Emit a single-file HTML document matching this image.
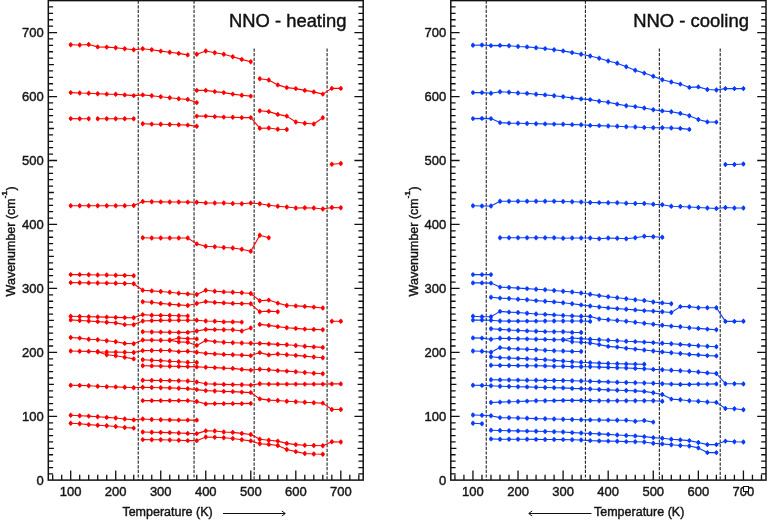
<!DOCTYPE html>
<html><head><meta charset="utf-8"><title>NNO heating / cooling</title>
<style>
html,body{margin:0;padding:0;background:#fff;}
body{width:768px;height:520px;overflow:hidden;}
svg{display:block;}
text{font-family:"Liberation Sans",Arial,sans-serif;fill:#151515;stroke:#151515;stroke-width:0.42px;}
.tl{font-size:13px;}
.al{font-size:12.5px;}
.tt{font-size:17.6px;fill:#111;}
</style></head><body>
<svg width="768" height="520" viewBox="0 0 768 520">
<defs><g id="mk"><circle cx="0" cy="0" r="1.95" stroke="none"/><path d="M0 -2.45v4.9" stroke-width="1.15" fill="none"/></g></defs>
<rect width="768" height="520" fill="#fff"/>
<!-- left: heating -->
<line x1="138.23" y1="0.6" x2="138.23" y2="480.1" stroke="#222" stroke-width="1.1" stroke-dasharray="3.2 1.4"/>
<line x1="194.05" y1="0.6" x2="194.05" y2="480.1" stroke="#222" stroke-width="1.1" stroke-dasharray="3.2 1.4"/>
<line x1="254.16" y1="48.5" x2="254.16" y2="480.1" stroke="#222" stroke-width="1.1" stroke-dasharray="3.2 1.4"/>
<line x1="327.09" y1="48.5" x2="327.09" y2="480.1" stroke="#222" stroke-width="1.1" stroke-dasharray="3.2 1.4"/>
<rect x="48.30" y="0.6" width="314.90" height="479.50" fill="none" stroke="#111" stroke-width="1.5"/>
<path d="M52.69 480.1v-5.4M61.70 480.1v-5.4M70.70 480.1v-9.6M79.70 480.1v-5.4M88.71 480.1v-5.4M97.71 480.1v-5.4M106.72 480.1v-5.4M115.72 480.1v-9.6M124.72 480.1v-5.4M133.73 480.1v-5.4M142.73 480.1v-5.4M151.74 480.1v-5.4M160.74 480.1v-9.6M169.74 480.1v-5.4M178.75 480.1v-5.4M187.75 480.1v-5.4M196.76 480.1v-5.4M205.76 480.1v-9.6M214.76 480.1v-5.4M223.77 480.1v-5.4M232.77 480.1v-5.4M241.78 480.1v-5.4M250.78 480.1v-9.6M259.78 480.1v-5.4M268.79 480.1v-5.4M277.79 480.1v-5.4M286.80 480.1v-5.4M295.80 480.1v-9.6M304.80 480.1v-5.4M313.81 480.1v-5.4M322.81 480.1v-5.4M331.82 480.1v-5.4M340.82 480.1v-9.6M349.82 480.1v-5.4M358.83 480.1v-5.4M48.30 473.95h4.8M363.20 473.95h-4.8M48.30 467.56h4.8M363.20 467.56h-4.8M48.30 461.16h4.8M363.20 461.16h-4.8M48.30 454.76h4.8M363.20 454.76h-4.8M48.30 448.37h5.6M363.20 448.37h-5.6M48.30 441.97h4.8M363.20 441.97h-4.8M48.30 435.57h4.8M363.20 435.57h-4.8M48.30 429.17h4.8M363.20 429.17h-4.8M48.30 422.78h4.8M363.20 422.78h-4.8M48.30 416.38h8.8M363.20 416.38h-8.8M48.30 409.98h4.8M363.20 409.98h-4.8M48.30 403.59h4.8M363.20 403.59h-4.8M48.30 397.19h4.8M363.20 397.19h-4.8M48.30 390.79h4.8M363.20 390.79h-4.8M48.30 384.39h5.6M363.20 384.39h-5.6M48.30 378.00h4.8M363.20 378.00h-4.8M48.30 371.60h4.8M363.20 371.60h-4.8M48.30 365.20h4.8M363.20 365.20h-4.8M48.30 358.81h4.8M363.20 358.81h-4.8M48.30 352.41h8.8M363.20 352.41h-8.8M48.30 346.01h4.8M363.20 346.01h-4.8M48.30 339.62h4.8M363.20 339.62h-4.8M48.30 333.22h4.8M363.20 333.22h-4.8M48.30 326.82h4.8M363.20 326.82h-4.8M48.30 320.43h5.6M363.20 320.43h-5.6M48.30 314.03h4.8M363.20 314.03h-4.8M48.30 307.63h4.8M363.20 307.63h-4.8M48.30 301.23h4.8M363.20 301.23h-4.8M48.30 294.84h4.8M363.20 294.84h-4.8M48.30 288.44h8.8M363.20 288.44h-8.8M48.30 282.04h4.8M363.20 282.04h-4.8M48.30 275.65h4.8M363.20 275.65h-4.8M48.30 269.25h4.8M363.20 269.25h-4.8M48.30 262.85h4.8M363.20 262.85h-4.8M48.30 256.46h5.6M363.20 256.46h-5.6M48.30 250.06h4.8M363.20 250.06h-4.8M48.30 243.66h4.8M363.20 243.66h-4.8M48.30 237.26h4.8M363.20 237.26h-4.8M48.30 230.87h4.8M363.20 230.87h-4.8M48.30 224.47h8.8M363.20 224.47h-8.8M48.30 218.07h4.8M363.20 218.07h-4.8M48.30 211.68h4.8M363.20 211.68h-4.8M48.30 205.28h4.8M363.20 205.28h-4.8M48.30 198.88h4.8M363.20 198.88h-4.8M48.30 192.49h5.6M363.20 192.49h-5.6M48.30 186.09h4.8M363.20 186.09h-4.8M48.30 179.69h4.8M363.20 179.69h-4.8M48.30 173.29h4.8M363.20 173.29h-4.8M48.30 166.90h4.8M363.20 166.90h-4.8M48.30 160.50h8.8M363.20 160.50h-8.8M48.30 154.10h4.8M363.20 154.10h-4.8M48.30 147.71h4.8M363.20 147.71h-4.8M48.30 141.31h4.8M363.20 141.31h-4.8M48.30 134.91h4.8M363.20 134.91h-4.8M48.30 128.51h5.6M363.20 128.51h-5.6M48.30 122.12h4.8M363.20 122.12h-4.8M48.30 115.72h4.8M363.20 115.72h-4.8M48.30 109.32h4.8M363.20 109.32h-4.8M48.30 102.93h4.8M363.20 102.93h-4.8M48.30 96.53h8.8M363.20 96.53h-8.8M48.30 90.13h4.8M363.20 90.13h-4.8M48.30 83.74h4.8M363.20 83.74h-4.8M48.30 77.34h4.8M363.20 77.34h-4.8M48.30 70.94h4.8M363.20 70.94h-4.8M48.30 64.55h5.6M363.20 64.55h-5.6M48.30 58.15h4.8M363.20 58.15h-4.8M48.30 51.75h4.8M363.20 51.75h-4.8M48.30 45.35h4.8M363.20 45.35h-4.8M48.30 38.96h4.8M363.20 38.96h-4.8M48.30 32.56h8.8M363.20 32.56h-8.8M48.30 26.16h4.8M363.20 26.16h-4.8M48.30 19.77h4.8M363.20 19.77h-4.8M48.30 13.37h4.8M363.20 13.37h-4.8M48.30 6.97h4.8M363.20 6.97h-4.8" stroke="#111" stroke-width="1.3" fill="none"/>
<g fill="#ff0000" stroke="#ff0000"><path d="M70.70 44.80L79.70 45.00L88.71 44.50L97.71 46.90L106.72 47.10L115.72 47.70L124.72 48.80L133.73 49.80L142.73 48.80L151.74 49.80L160.74 51.10L169.74 52.20L178.75 53.40L187.75 54.90M196.76 54.20L205.76 51.00L214.76 52.80L223.77 54.20L232.77 56.70L241.78 59.40L250.78 61.70M259.78 78.70L268.79 80.00L277.79 84.90L286.80 87.60L295.80 88.60L304.80 90.40L313.81 91.90L322.81 94.10L331.82 88.40L340.82 88.40M70.70 92.60L79.70 93.00L88.71 93.20L97.71 93.70L106.72 94.10L115.72 94.30L124.72 94.90L133.73 95.60L142.73 94.90L151.74 95.80L160.74 96.80L169.74 97.70L178.75 98.70L187.75 99.40L196.76 102.60M196.76 90.40L205.76 90.40L214.76 91.60L223.77 92.60L232.77 94.10L241.78 95.30L250.78 96.10M259.78 110.70L268.79 111.60L277.79 114.40L286.80 116.10L295.80 122.00L304.80 123.30L313.81 124.00L322.81 117.80M70.70 118.60L79.70 118.70L88.71 118.70M97.71 118.80L106.72 118.70L115.72 118.70L124.72 118.70L133.73 118.70M142.73 123.70L151.74 124.10L160.74 124.30L169.74 124.50L178.75 124.80L187.75 125.10L196.76 126.30M196.76 116.10L205.76 116.10L214.76 116.60L223.77 117.10L232.77 117.30L241.78 117.60L250.78 117.60L259.78 128.20L268.79 128.00L277.79 129.20L286.80 129.50M70.70 205.75L79.70 205.75L88.71 205.75L97.71 205.75L106.72 205.75L115.72 205.75L124.72 205.75L133.73 205.50L142.73 201.50L151.74 201.75L160.74 201.90L169.74 202.00L178.75 202.00L187.75 202.10L196.76 202.25L205.76 202.90L214.76 203.00L223.77 203.00L232.77 203.50L241.78 203.75L250.78 203.00L259.78 203.75L268.79 205.25L277.79 206.25L286.80 207.00L295.80 208.00L304.80 207.75L313.81 208.00L322.81 209.00L331.82 207.50L340.82 207.75M142.73 237.75L151.74 238.00L160.74 238.00L169.74 238.00L178.75 238.00L187.75 238.00L196.76 243.90L205.76 246.20L214.76 246.75L223.77 247.50L232.77 248.00L241.78 249.25L250.78 251.25L259.78 235.25L268.79 237.75M331.82 164.25L340.82 163.50M70.70 274.60L79.70 274.60L88.71 274.80L97.71 275.00L106.72 275.00L115.72 275.20L124.72 275.40L133.73 275.70M70.70 282.60L79.70 282.70L88.71 282.90L97.71 283.00L106.72 283.10L115.72 283.30L124.72 283.50L133.73 283.70L142.73 290.30L151.74 290.90L160.74 291.50L169.74 292.20L178.75 293.20L187.75 293.90L196.76 294.50L205.76 290.20L214.76 291.20L223.77 291.90L232.77 292.30L241.78 292.80L250.78 293.50L259.78 300.80L268.79 300.10L277.79 303.10L286.80 305.50L295.80 305.90L304.80 306.40L313.81 307.10L322.81 308.00M142.73 301.70L151.74 302.30L160.74 303.40L169.74 304.20L178.75 304.90L187.75 305.50L196.76 303.50L205.76 301.60L214.76 302.40L223.77 302.90L232.77 303.40L241.78 303.60L250.78 303.80L259.78 311.80L268.79 311.10L277.79 311.80M70.70 316.30L79.70 316.50L88.71 316.70L97.71 316.90L106.72 317.10L115.72 317.40L124.72 317.60L133.73 317.80L142.73 314.60L151.74 315.20L160.74 315.40L169.74 315.50L178.75 315.80L187.75 315.90M70.70 319.90L79.70 320.50L88.71 321.00L97.71 321.60L106.72 322.20L115.72 322.90L124.72 324.60L133.73 324.80L142.73 321.00L151.74 320.60L160.74 320.40L169.74 320.30L178.75 320.30L187.75 320.30L196.76 320.20L205.76 321.00L214.76 321.30L223.77 321.90L232.77 321.90L241.78 322.10M331.82 321.20L340.82 321.20M142.73 331.70L151.74 332.00L160.74 332.10L169.74 332.20L178.75 332.40L187.75 332.40L196.76 331.00L205.76 329.40L214.76 329.60L223.77 329.80L232.77 329.80L241.78 331.00L250.78 328.00M259.78 324.40L268.79 325.40L277.79 326.60L286.80 327.70L295.80 328.40L304.80 329.10L313.81 329.40L322.81 329.80M70.70 337.50L79.70 338.10L88.71 339.20L97.71 339.80L106.72 340.80L115.72 341.70L124.72 343.40L133.73 343.80L142.73 340.00L151.74 340.10L160.74 340.20L169.74 340.30L178.75 341.90L187.75 342.30L196.76 345.40L205.76 340.40L214.76 341.60L223.77 342.30L232.77 342.70L241.78 343.00L250.78 343.20L259.78 343.40L268.79 343.90L277.79 344.40L286.80 344.80L295.80 345.50L304.80 346.20L313.81 346.90L322.81 347.40M169.74 340.30L178.75 338.00L187.75 338.60L196.76 338.90M70.70 351.00L79.70 351.20L88.71 351.40L97.71 351.80L106.72 352.00L115.72 352.10L124.72 352.20L133.73 352.50L142.73 350.60L151.74 350.50L160.74 350.50L169.74 350.50L178.75 351.60L187.75 351.20L196.76 352.20L205.76 353.40L214.76 353.90L223.77 354.40L232.77 354.70L241.78 355.10L250.78 355.60L259.78 352.60L268.79 354.90L277.79 354.00L286.80 354.70L295.80 355.40L304.80 356.10L313.81 357.00L322.81 357.70M97.71 351.80L106.72 354.70L115.72 355.80L124.72 357.30L133.73 358.90M142.73 359.70L151.74 360.20L160.74 360.60L169.74 361.25L178.75 361.70L187.75 362.20L196.76 362.50M142.73 365.70L151.74 365.90L160.74 366.10L169.74 366.25L178.75 366.40L187.75 366.60L196.76 366.90L205.76 367.20L214.76 367.60L223.77 368.10L232.77 368.40L241.78 369.40L250.78 370.10L259.78 369.30L268.79 369.70L277.79 370.60L286.80 371.10L295.80 371.80L304.80 372.50L313.81 373.20L322.81 373.70M142.73 380.30L151.74 380.40L160.74 380.50L169.74 380.60L178.75 380.80L187.75 381.00L196.76 382.00L205.76 383.80L214.76 384.10L223.77 384.40L232.77 384.60L241.78 384.80L250.78 385.10L259.78 383.70L268.79 384.10L277.79 384.10L286.80 384.10L295.80 384.10L304.80 384.10L313.81 384.10L322.81 384.10L331.82 383.90L340.82 383.90M70.70 385.20L79.70 385.40L88.71 385.80L97.71 386.20L106.72 386.70L115.72 386.90L124.72 387.30L133.73 387.70L142.73 387.30L151.74 387.50L160.74 387.70L169.74 387.90L178.75 388.20L187.75 388.60L196.76 389.60L205.76 390.60L214.76 391.00L223.77 391.40L232.77 391.60L241.78 392.10L250.78 392.60L259.78 398.90L268.79 400.10L277.79 400.50L286.80 401.20L295.80 401.70L304.80 402.20L313.81 402.70L322.81 403.10L331.82 409.50L340.82 409.50M142.73 400.60L151.74 400.60L160.74 400.60L169.74 400.60L178.75 400.60L187.75 400.60L196.76 401.50L205.76 403.90L214.76 403.60L223.77 403.60L232.77 403.60L241.78 403.60L250.78 403.40M70.70 415.20L79.70 415.70L88.71 416.10L97.71 416.70L106.72 417.40L115.72 418.00L124.72 419.00L133.73 419.90L142.73 419.00L151.74 419.50L160.74 419.70L169.74 419.90L178.75 420.10L187.75 420.10L196.76 420.15M70.70 423.30L79.70 423.70L88.71 424.60L97.71 425.20L106.72 425.80L115.72 426.50L124.72 427.50L133.73 428.10M142.73 432.00L151.74 432.20L160.74 432.40L169.74 432.60L178.75 433.00L187.75 433.40L196.76 433.60L205.76 430.85L214.76 431.00L223.77 432.00L232.77 432.40L241.78 433.40L250.78 434.50L259.78 439.20L268.79 440.20L277.79 441.10L286.80 443.40L295.80 444.60L304.80 445.30L313.81 445.50L322.81 445.80L331.82 441.80L340.82 442.00M142.73 439.60L151.74 439.80L160.74 439.80L169.74 440.00L178.75 440.20L187.75 440.60L196.76 440.65L205.76 437.05L214.76 437.30L223.77 437.80L232.77 438.50L241.78 439.70L250.78 440.90L259.78 443.70L268.79 444.40L277.79 445.50L286.80 449.50L295.80 451.60L304.80 453.50L313.81 454.00L322.81 454.20" fill="none" stroke-width="1.1" stroke-linejoin="round"/><use href="#mk" x="70.70" y="44.80"/><use href="#mk" x="79.70" y="45.00"/><use href="#mk" x="88.71" y="44.50"/><use href="#mk" x="97.71" y="46.90"/><use href="#mk" x="106.72" y="47.10"/><use href="#mk" x="115.72" y="47.70"/><use href="#mk" x="124.72" y="48.80"/><use href="#mk" x="133.73" y="49.80"/><use href="#mk" x="142.73" y="48.80"/><use href="#mk" x="151.74" y="49.80"/><use href="#mk" x="160.74" y="51.10"/><use href="#mk" x="169.74" y="52.20"/><use href="#mk" x="178.75" y="53.40"/><use href="#mk" x="187.75" y="54.90"/><use href="#mk" x="196.76" y="54.20"/><use href="#mk" x="205.76" y="51.00"/><use href="#mk" x="214.76" y="52.80"/><use href="#mk" x="223.77" y="54.20"/><use href="#mk" x="232.77" y="56.70"/><use href="#mk" x="241.78" y="59.40"/><use href="#mk" x="250.78" y="61.70"/><use href="#mk" x="259.78" y="78.70"/><use href="#mk" x="268.79" y="80.00"/><use href="#mk" x="277.79" y="84.90"/><use href="#mk" x="286.80" y="87.60"/><use href="#mk" x="295.80" y="88.60"/><use href="#mk" x="304.80" y="90.40"/><use href="#mk" x="313.81" y="91.90"/><use href="#mk" x="322.81" y="94.10"/><use href="#mk" x="331.82" y="88.40"/><use href="#mk" x="340.82" y="88.40"/><use href="#mk" x="70.70" y="92.60"/><use href="#mk" x="79.70" y="93.00"/><use href="#mk" x="88.71" y="93.20"/><use href="#mk" x="97.71" y="93.70"/><use href="#mk" x="106.72" y="94.10"/><use href="#mk" x="115.72" y="94.30"/><use href="#mk" x="124.72" y="94.90"/><use href="#mk" x="133.73" y="95.60"/><use href="#mk" x="142.73" y="94.90"/><use href="#mk" x="151.74" y="95.80"/><use href="#mk" x="160.74" y="96.80"/><use href="#mk" x="169.74" y="97.70"/><use href="#mk" x="178.75" y="98.70"/><use href="#mk" x="187.75" y="99.40"/><use href="#mk" x="196.76" y="102.60"/><use href="#mk" x="196.76" y="90.40"/><use href="#mk" x="205.76" y="90.40"/><use href="#mk" x="214.76" y="91.60"/><use href="#mk" x="223.77" y="92.60"/><use href="#mk" x="232.77" y="94.10"/><use href="#mk" x="241.78" y="95.30"/><use href="#mk" x="250.78" y="96.10"/><use href="#mk" x="259.78" y="110.70"/><use href="#mk" x="268.79" y="111.60"/><use href="#mk" x="277.79" y="114.40"/><use href="#mk" x="286.80" y="116.10"/><use href="#mk" x="295.80" y="122.00"/><use href="#mk" x="304.80" y="123.30"/><use href="#mk" x="313.81" y="124.00"/><use href="#mk" x="322.81" y="117.80"/><use href="#mk" x="70.70" y="118.60"/><use href="#mk" x="79.70" y="118.70"/><use href="#mk" x="88.71" y="118.70"/><use href="#mk" x="97.71" y="118.80"/><use href="#mk" x="106.72" y="118.70"/><use href="#mk" x="115.72" y="118.70"/><use href="#mk" x="124.72" y="118.70"/><use href="#mk" x="133.73" y="118.70"/><use href="#mk" x="142.73" y="123.70"/><use href="#mk" x="151.74" y="124.10"/><use href="#mk" x="160.74" y="124.30"/><use href="#mk" x="169.74" y="124.50"/><use href="#mk" x="178.75" y="124.80"/><use href="#mk" x="187.75" y="125.10"/><use href="#mk" x="196.76" y="126.30"/><use href="#mk" x="196.76" y="116.10"/><use href="#mk" x="205.76" y="116.10"/><use href="#mk" x="214.76" y="116.60"/><use href="#mk" x="223.77" y="117.10"/><use href="#mk" x="232.77" y="117.30"/><use href="#mk" x="241.78" y="117.60"/><use href="#mk" x="250.78" y="117.60"/><use href="#mk" x="259.78" y="128.20"/><use href="#mk" x="268.79" y="128.00"/><use href="#mk" x="277.79" y="129.20"/><use href="#mk" x="286.80" y="129.50"/><use href="#mk" x="70.70" y="205.75"/><use href="#mk" x="79.70" y="205.75"/><use href="#mk" x="88.71" y="205.75"/><use href="#mk" x="97.71" y="205.75"/><use href="#mk" x="106.72" y="205.75"/><use href="#mk" x="115.72" y="205.75"/><use href="#mk" x="124.72" y="205.75"/><use href="#mk" x="133.73" y="205.50"/><use href="#mk" x="142.73" y="201.50"/><use href="#mk" x="151.74" y="201.75"/><use href="#mk" x="160.74" y="201.90"/><use href="#mk" x="169.74" y="202.00"/><use href="#mk" x="178.75" y="202.00"/><use href="#mk" x="187.75" y="202.10"/><use href="#mk" x="196.76" y="202.25"/><use href="#mk" x="205.76" y="202.90"/><use href="#mk" x="214.76" y="203.00"/><use href="#mk" x="223.77" y="203.00"/><use href="#mk" x="232.77" y="203.50"/><use href="#mk" x="241.78" y="203.75"/><use href="#mk" x="250.78" y="203.00"/><use href="#mk" x="259.78" y="203.75"/><use href="#mk" x="268.79" y="205.25"/><use href="#mk" x="277.79" y="206.25"/><use href="#mk" x="286.80" y="207.00"/><use href="#mk" x="295.80" y="208.00"/><use href="#mk" x="304.80" y="207.75"/><use href="#mk" x="313.81" y="208.00"/><use href="#mk" x="322.81" y="209.00"/><use href="#mk" x="331.82" y="207.50"/><use href="#mk" x="340.82" y="207.75"/><use href="#mk" x="142.73" y="237.75"/><use href="#mk" x="151.74" y="238.00"/><use href="#mk" x="160.74" y="238.00"/><use href="#mk" x="169.74" y="238.00"/><use href="#mk" x="178.75" y="238.00"/><use href="#mk" x="187.75" y="238.00"/><use href="#mk" x="196.76" y="243.90"/><use href="#mk" x="205.76" y="246.20"/><use href="#mk" x="214.76" y="246.75"/><use href="#mk" x="223.77" y="247.50"/><use href="#mk" x="232.77" y="248.00"/><use href="#mk" x="241.78" y="249.25"/><use href="#mk" x="250.78" y="251.25"/><use href="#mk" x="259.78" y="235.25"/><use href="#mk" x="268.79" y="237.75"/><use href="#mk" x="331.82" y="164.25"/><use href="#mk" x="340.82" y="163.50"/><use href="#mk" x="70.70" y="274.60"/><use href="#mk" x="79.70" y="274.60"/><use href="#mk" x="88.71" y="274.80"/><use href="#mk" x="97.71" y="275.00"/><use href="#mk" x="106.72" y="275.00"/><use href="#mk" x="115.72" y="275.20"/><use href="#mk" x="124.72" y="275.40"/><use href="#mk" x="133.73" y="275.70"/><use href="#mk" x="70.70" y="282.60"/><use href="#mk" x="79.70" y="282.70"/><use href="#mk" x="88.71" y="282.90"/><use href="#mk" x="97.71" y="283.00"/><use href="#mk" x="106.72" y="283.10"/><use href="#mk" x="115.72" y="283.30"/><use href="#mk" x="124.72" y="283.50"/><use href="#mk" x="133.73" y="283.70"/><use href="#mk" x="142.73" y="290.30"/><use href="#mk" x="151.74" y="290.90"/><use href="#mk" x="160.74" y="291.50"/><use href="#mk" x="169.74" y="292.20"/><use href="#mk" x="178.75" y="293.20"/><use href="#mk" x="187.75" y="293.90"/><use href="#mk" x="196.76" y="294.50"/><use href="#mk" x="205.76" y="290.20"/><use href="#mk" x="214.76" y="291.20"/><use href="#mk" x="223.77" y="291.90"/><use href="#mk" x="232.77" y="292.30"/><use href="#mk" x="241.78" y="292.80"/><use href="#mk" x="250.78" y="293.50"/><use href="#mk" x="259.78" y="300.80"/><use href="#mk" x="268.79" y="300.10"/><use href="#mk" x="277.79" y="303.10"/><use href="#mk" x="286.80" y="305.50"/><use href="#mk" x="295.80" y="305.90"/><use href="#mk" x="304.80" y="306.40"/><use href="#mk" x="313.81" y="307.10"/><use href="#mk" x="322.81" y="308.00"/><use href="#mk" x="142.73" y="301.70"/><use href="#mk" x="151.74" y="302.30"/><use href="#mk" x="160.74" y="303.40"/><use href="#mk" x="169.74" y="304.20"/><use href="#mk" x="178.75" y="304.90"/><use href="#mk" x="187.75" y="305.50"/><use href="#mk" x="196.76" y="303.50"/><use href="#mk" x="205.76" y="301.60"/><use href="#mk" x="214.76" y="302.40"/><use href="#mk" x="223.77" y="302.90"/><use href="#mk" x="232.77" y="303.40"/><use href="#mk" x="241.78" y="303.60"/><use href="#mk" x="250.78" y="303.80"/><use href="#mk" x="259.78" y="311.80"/><use href="#mk" x="268.79" y="311.10"/><use href="#mk" x="277.79" y="311.80"/><use href="#mk" x="70.70" y="316.30"/><use href="#mk" x="79.70" y="316.50"/><use href="#mk" x="88.71" y="316.70"/><use href="#mk" x="97.71" y="316.90"/><use href="#mk" x="106.72" y="317.10"/><use href="#mk" x="115.72" y="317.40"/><use href="#mk" x="124.72" y="317.60"/><use href="#mk" x="133.73" y="317.80"/><use href="#mk" x="142.73" y="314.60"/><use href="#mk" x="151.74" y="315.20"/><use href="#mk" x="160.74" y="315.40"/><use href="#mk" x="169.74" y="315.50"/><use href="#mk" x="178.75" y="315.80"/><use href="#mk" x="187.75" y="315.90"/><use href="#mk" x="70.70" y="319.90"/><use href="#mk" x="79.70" y="320.50"/><use href="#mk" x="88.71" y="321.00"/><use href="#mk" x="97.71" y="321.60"/><use href="#mk" x="106.72" y="322.20"/><use href="#mk" x="115.72" y="322.90"/><use href="#mk" x="124.72" y="324.60"/><use href="#mk" x="133.73" y="324.80"/><use href="#mk" x="142.73" y="321.00"/><use href="#mk" x="151.74" y="320.60"/><use href="#mk" x="160.74" y="320.40"/><use href="#mk" x="169.74" y="320.30"/><use href="#mk" x="178.75" y="320.30"/><use href="#mk" x="187.75" y="320.30"/><use href="#mk" x="196.76" y="320.20"/><use href="#mk" x="205.76" y="321.00"/><use href="#mk" x="214.76" y="321.30"/><use href="#mk" x="223.77" y="321.90"/><use href="#mk" x="232.77" y="321.90"/><use href="#mk" x="241.78" y="322.10"/><use href="#mk" x="331.82" y="321.20"/><use href="#mk" x="340.82" y="321.20"/><use href="#mk" x="142.73" y="331.70"/><use href="#mk" x="151.74" y="332.00"/><use href="#mk" x="160.74" y="332.10"/><use href="#mk" x="169.74" y="332.20"/><use href="#mk" x="178.75" y="332.40"/><use href="#mk" x="187.75" y="332.40"/><use href="#mk" x="196.76" y="331.00"/><use href="#mk" x="205.76" y="329.40"/><use href="#mk" x="214.76" y="329.60"/><use href="#mk" x="223.77" y="329.80"/><use href="#mk" x="232.77" y="329.80"/><use href="#mk" x="241.78" y="331.00"/><use href="#mk" x="250.78" y="328.00"/><use href="#mk" x="259.78" y="324.40"/><use href="#mk" x="268.79" y="325.40"/><use href="#mk" x="277.79" y="326.60"/><use href="#mk" x="286.80" y="327.70"/><use href="#mk" x="295.80" y="328.40"/><use href="#mk" x="304.80" y="329.10"/><use href="#mk" x="313.81" y="329.40"/><use href="#mk" x="322.81" y="329.80"/><use href="#mk" x="70.70" y="337.50"/><use href="#mk" x="79.70" y="338.10"/><use href="#mk" x="88.71" y="339.20"/><use href="#mk" x="97.71" y="339.80"/><use href="#mk" x="106.72" y="340.80"/><use href="#mk" x="115.72" y="341.70"/><use href="#mk" x="124.72" y="343.40"/><use href="#mk" x="133.73" y="343.80"/><use href="#mk" x="142.73" y="340.00"/><use href="#mk" x="151.74" y="340.10"/><use href="#mk" x="160.74" y="340.20"/><use href="#mk" x="169.74" y="340.30"/><use href="#mk" x="178.75" y="341.90"/><use href="#mk" x="187.75" y="342.30"/><use href="#mk" x="196.76" y="345.40"/><use href="#mk" x="205.76" y="340.40"/><use href="#mk" x="214.76" y="341.60"/><use href="#mk" x="223.77" y="342.30"/><use href="#mk" x="232.77" y="342.70"/><use href="#mk" x="241.78" y="343.00"/><use href="#mk" x="250.78" y="343.20"/><use href="#mk" x="259.78" y="343.40"/><use href="#mk" x="268.79" y="343.90"/><use href="#mk" x="277.79" y="344.40"/><use href="#mk" x="286.80" y="344.80"/><use href="#mk" x="295.80" y="345.50"/><use href="#mk" x="304.80" y="346.20"/><use href="#mk" x="313.81" y="346.90"/><use href="#mk" x="322.81" y="347.40"/><use href="#mk" x="169.74" y="340.30"/><use href="#mk" x="178.75" y="338.00"/><use href="#mk" x="187.75" y="338.60"/><use href="#mk" x="196.76" y="338.90"/><use href="#mk" x="70.70" y="351.00"/><use href="#mk" x="79.70" y="351.20"/><use href="#mk" x="88.71" y="351.40"/><use href="#mk" x="97.71" y="351.80"/><use href="#mk" x="106.72" y="352.00"/><use href="#mk" x="115.72" y="352.10"/><use href="#mk" x="124.72" y="352.20"/><use href="#mk" x="133.73" y="352.50"/><use href="#mk" x="142.73" y="350.60"/><use href="#mk" x="151.74" y="350.50"/><use href="#mk" x="160.74" y="350.50"/><use href="#mk" x="169.74" y="350.50"/><use href="#mk" x="178.75" y="351.60"/><use href="#mk" x="187.75" y="351.20"/><use href="#mk" x="196.76" y="352.20"/><use href="#mk" x="205.76" y="353.40"/><use href="#mk" x="214.76" y="353.90"/><use href="#mk" x="223.77" y="354.40"/><use href="#mk" x="232.77" y="354.70"/><use href="#mk" x="241.78" y="355.10"/><use href="#mk" x="250.78" y="355.60"/><use href="#mk" x="259.78" y="352.60"/><use href="#mk" x="268.79" y="354.90"/><use href="#mk" x="277.79" y="354.00"/><use href="#mk" x="286.80" y="354.70"/><use href="#mk" x="295.80" y="355.40"/><use href="#mk" x="304.80" y="356.10"/><use href="#mk" x="313.81" y="357.00"/><use href="#mk" x="322.81" y="357.70"/><use href="#mk" x="97.71" y="351.80"/><use href="#mk" x="106.72" y="354.70"/><use href="#mk" x="115.72" y="355.80"/><use href="#mk" x="124.72" y="357.30"/><use href="#mk" x="133.73" y="358.90"/><use href="#mk" x="142.73" y="359.70"/><use href="#mk" x="151.74" y="360.20"/><use href="#mk" x="160.74" y="360.60"/><use href="#mk" x="169.74" y="361.25"/><use href="#mk" x="178.75" y="361.70"/><use href="#mk" x="187.75" y="362.20"/><use href="#mk" x="196.76" y="362.50"/><use href="#mk" x="142.73" y="365.70"/><use href="#mk" x="151.74" y="365.90"/><use href="#mk" x="160.74" y="366.10"/><use href="#mk" x="169.74" y="366.25"/><use href="#mk" x="178.75" y="366.40"/><use href="#mk" x="187.75" y="366.60"/><use href="#mk" x="196.76" y="366.90"/><use href="#mk" x="205.76" y="367.20"/><use href="#mk" x="214.76" y="367.60"/><use href="#mk" x="223.77" y="368.10"/><use href="#mk" x="232.77" y="368.40"/><use href="#mk" x="241.78" y="369.40"/><use href="#mk" x="250.78" y="370.10"/><use href="#mk" x="259.78" y="369.30"/><use href="#mk" x="268.79" y="369.70"/><use href="#mk" x="277.79" y="370.60"/><use href="#mk" x="286.80" y="371.10"/><use href="#mk" x="295.80" y="371.80"/><use href="#mk" x="304.80" y="372.50"/><use href="#mk" x="313.81" y="373.20"/><use href="#mk" x="322.81" y="373.70"/><use href="#mk" x="142.73" y="380.30"/><use href="#mk" x="151.74" y="380.40"/><use href="#mk" x="160.74" y="380.50"/><use href="#mk" x="169.74" y="380.60"/><use href="#mk" x="178.75" y="380.80"/><use href="#mk" x="187.75" y="381.00"/><use href="#mk" x="196.76" y="382.00"/><use href="#mk" x="205.76" y="383.80"/><use href="#mk" x="214.76" y="384.10"/><use href="#mk" x="223.77" y="384.40"/><use href="#mk" x="232.77" y="384.60"/><use href="#mk" x="241.78" y="384.80"/><use href="#mk" x="250.78" y="385.10"/><use href="#mk" x="259.78" y="383.70"/><use href="#mk" x="268.79" y="384.10"/><use href="#mk" x="277.79" y="384.10"/><use href="#mk" x="286.80" y="384.10"/><use href="#mk" x="295.80" y="384.10"/><use href="#mk" x="304.80" y="384.10"/><use href="#mk" x="313.81" y="384.10"/><use href="#mk" x="322.81" y="384.10"/><use href="#mk" x="331.82" y="383.90"/><use href="#mk" x="340.82" y="383.90"/><use href="#mk" x="70.70" y="385.20"/><use href="#mk" x="79.70" y="385.40"/><use href="#mk" x="88.71" y="385.80"/><use href="#mk" x="97.71" y="386.20"/><use href="#mk" x="106.72" y="386.70"/><use href="#mk" x="115.72" y="386.90"/><use href="#mk" x="124.72" y="387.30"/><use href="#mk" x="133.73" y="387.70"/><use href="#mk" x="142.73" y="387.30"/><use href="#mk" x="151.74" y="387.50"/><use href="#mk" x="160.74" y="387.70"/><use href="#mk" x="169.74" y="387.90"/><use href="#mk" x="178.75" y="388.20"/><use href="#mk" x="187.75" y="388.60"/><use href="#mk" x="196.76" y="389.60"/><use href="#mk" x="205.76" y="390.60"/><use href="#mk" x="214.76" y="391.00"/><use href="#mk" x="223.77" y="391.40"/><use href="#mk" x="232.77" y="391.60"/><use href="#mk" x="241.78" y="392.10"/><use href="#mk" x="250.78" y="392.60"/><use href="#mk" x="259.78" y="398.90"/><use href="#mk" x="268.79" y="400.10"/><use href="#mk" x="277.79" y="400.50"/><use href="#mk" x="286.80" y="401.20"/><use href="#mk" x="295.80" y="401.70"/><use href="#mk" x="304.80" y="402.20"/><use href="#mk" x="313.81" y="402.70"/><use href="#mk" x="322.81" y="403.10"/><use href="#mk" x="331.82" y="409.50"/><use href="#mk" x="340.82" y="409.50"/><use href="#mk" x="142.73" y="400.60"/><use href="#mk" x="151.74" y="400.60"/><use href="#mk" x="160.74" y="400.60"/><use href="#mk" x="169.74" y="400.60"/><use href="#mk" x="178.75" y="400.60"/><use href="#mk" x="187.75" y="400.60"/><use href="#mk" x="196.76" y="401.50"/><use href="#mk" x="205.76" y="403.90"/><use href="#mk" x="214.76" y="403.60"/><use href="#mk" x="223.77" y="403.60"/><use href="#mk" x="232.77" y="403.60"/><use href="#mk" x="241.78" y="403.60"/><use href="#mk" x="250.78" y="403.40"/><use href="#mk" x="70.70" y="415.20"/><use href="#mk" x="79.70" y="415.70"/><use href="#mk" x="88.71" y="416.10"/><use href="#mk" x="97.71" y="416.70"/><use href="#mk" x="106.72" y="417.40"/><use href="#mk" x="115.72" y="418.00"/><use href="#mk" x="124.72" y="419.00"/><use href="#mk" x="133.73" y="419.90"/><use href="#mk" x="142.73" y="419.00"/><use href="#mk" x="151.74" y="419.50"/><use href="#mk" x="160.74" y="419.70"/><use href="#mk" x="169.74" y="419.90"/><use href="#mk" x="178.75" y="420.10"/><use href="#mk" x="187.75" y="420.10"/><use href="#mk" x="196.76" y="420.15"/><use href="#mk" x="70.70" y="423.30"/><use href="#mk" x="79.70" y="423.70"/><use href="#mk" x="88.71" y="424.60"/><use href="#mk" x="97.71" y="425.20"/><use href="#mk" x="106.72" y="425.80"/><use href="#mk" x="115.72" y="426.50"/><use href="#mk" x="124.72" y="427.50"/><use href="#mk" x="133.73" y="428.10"/><use href="#mk" x="142.73" y="432.00"/><use href="#mk" x="151.74" y="432.20"/><use href="#mk" x="160.74" y="432.40"/><use href="#mk" x="169.74" y="432.60"/><use href="#mk" x="178.75" y="433.00"/><use href="#mk" x="187.75" y="433.40"/><use href="#mk" x="196.76" y="433.60"/><use href="#mk" x="205.76" y="430.85"/><use href="#mk" x="214.76" y="431.00"/><use href="#mk" x="223.77" y="432.00"/><use href="#mk" x="232.77" y="432.40"/><use href="#mk" x="241.78" y="433.40"/><use href="#mk" x="250.78" y="434.50"/><use href="#mk" x="259.78" y="439.20"/><use href="#mk" x="268.79" y="440.20"/><use href="#mk" x="277.79" y="441.10"/><use href="#mk" x="286.80" y="443.40"/><use href="#mk" x="295.80" y="444.60"/><use href="#mk" x="304.80" y="445.30"/><use href="#mk" x="313.81" y="445.50"/><use href="#mk" x="322.81" y="445.80"/><use href="#mk" x="331.82" y="441.80"/><use href="#mk" x="340.82" y="442.00"/><use href="#mk" x="142.73" y="439.60"/><use href="#mk" x="151.74" y="439.80"/><use href="#mk" x="160.74" y="439.80"/><use href="#mk" x="169.74" y="440.00"/><use href="#mk" x="178.75" y="440.20"/><use href="#mk" x="187.75" y="440.60"/><use href="#mk" x="196.76" y="440.65"/><use href="#mk" x="205.76" y="437.05"/><use href="#mk" x="214.76" y="437.30"/><use href="#mk" x="223.77" y="437.80"/><use href="#mk" x="232.77" y="438.50"/><use href="#mk" x="241.78" y="439.70"/><use href="#mk" x="250.78" y="440.90"/><use href="#mk" x="259.78" y="443.70"/><use href="#mk" x="268.79" y="444.40"/><use href="#mk" x="277.79" y="445.50"/><use href="#mk" x="286.80" y="449.50"/><use href="#mk" x="295.80" y="451.60"/><use href="#mk" x="304.80" y="453.50"/><use href="#mk" x="313.81" y="454.00"/><use href="#mk" x="322.81" y="454.20"/></g>
<text x="70.70" y="496.4" text-anchor="middle" class="tl">100</text>
<text x="115.72" y="496.4" text-anchor="middle" class="tl">200</text>
<text x="160.74" y="496.4" text-anchor="middle" class="tl">300</text>
<text x="205.76" y="496.4" text-anchor="middle" class="tl">400</text>
<text x="250.78" y="496.4" text-anchor="middle" class="tl">500</text>
<text x="295.80" y="496.4" text-anchor="middle" class="tl">600</text>
<text x="340.82" y="496.4" text-anchor="middle" class="tl">700</text>
<text x="43.70" y="484.55" text-anchor="end" class="tl">0</text>
<text x="43.70" y="420.58" text-anchor="end" class="tl">100</text>
<text x="43.70" y="356.61" text-anchor="end" class="tl">200</text>
<text x="43.70" y="292.64" text-anchor="end" class="tl">300</text>
<text x="43.70" y="228.67" text-anchor="end" class="tl">400</text>
<text x="43.70" y="164.70" text-anchor="end" class="tl">500</text>
<text x="43.70" y="100.73" text-anchor="end" class="tl">600</text>
<text x="43.70" y="36.76" text-anchor="end" class="tl">700</text>
<text x="229" y="26.7" class="tt" textLength="117.5" lengthAdjust="spacingAndGlyphs">NNO - heating</text>
<text transform="translate(15.2,296.4) rotate(-90)" class="al">Wavenumber (cm<tspan dy="-8.2" font-size="8" font-weight="bold">-1</tspan><tspan dy="8.2" dx="0.6">)</tspan></text>
<text x="122.4" y="515.5" class="al">Temperature (K)</text>
<path d="M223 513.5H285M281.8 511L285.3 513.5L281.8 516" stroke="#111" stroke-width="1" fill="none"/>
<!-- right: cooling -->
<line x1="486.25" y1="0.6" x2="486.25" y2="480.1" stroke="#222" stroke-width="1.1" stroke-dasharray="3.2 1.4"/>
<line x1="585.42" y1="0.6" x2="585.42" y2="480.1" stroke="#222" stroke-width="1.1" stroke-dasharray="3.2 1.4"/>
<line x1="659.36" y1="48.5" x2="659.36" y2="480.1" stroke="#222" stroke-width="1.1" stroke-dasharray="3.2 1.4"/>
<line x1="720.21" y1="48.5" x2="720.21" y2="480.1" stroke="#222" stroke-width="1.1" stroke-dasharray="3.2 1.4"/>
<rect x="450.80" y="0.6" width="315.20" height="479.50" fill="none" stroke="#111" stroke-width="1.5"/>
<path d="M454.92 480.1v-5.4M463.93 480.1v-5.4M472.95 480.1v-9.6M481.97 480.1v-5.4M490.98 480.1v-5.4M500.00 480.1v-5.4M509.01 480.1v-5.4M518.03 480.1v-9.6M527.05 480.1v-5.4M536.06 480.1v-5.4M545.08 480.1v-5.4M554.09 480.1v-5.4M563.11 480.1v-9.6M572.13 480.1v-5.4M581.14 480.1v-5.4M590.16 480.1v-5.4M599.17 480.1v-5.4M608.19 480.1v-9.6M617.21 480.1v-5.4M626.22 480.1v-5.4M635.24 480.1v-5.4M644.25 480.1v-5.4M653.27 480.1v-9.6M662.29 480.1v-5.4M671.30 480.1v-5.4M680.32 480.1v-5.4M689.33 480.1v-5.4M698.35 480.1v-9.6M707.37 480.1v-5.4M716.38 480.1v-5.4M725.40 480.1v-5.4M734.41 480.1v-5.4M743.43 480.1v-9.6M752.45 480.1v-5.4M761.46 480.1v-5.4M450.80 473.95h4.8M766.00 473.95h-4.8M450.80 467.56h4.8M766.00 467.56h-4.8M450.80 461.16h4.8M766.00 461.16h-4.8M450.80 454.76h4.8M766.00 454.76h-4.8M450.80 448.37h5.6M766.00 448.37h-5.6M450.80 441.97h4.8M766.00 441.97h-4.8M450.80 435.57h4.8M766.00 435.57h-4.8M450.80 429.17h4.8M766.00 429.17h-4.8M450.80 422.78h4.8M766.00 422.78h-4.8M450.80 416.38h8.8M766.00 416.38h-8.8M450.80 409.98h4.8M766.00 409.98h-4.8M450.80 403.59h4.8M766.00 403.59h-4.8M450.80 397.19h4.8M766.00 397.19h-4.8M450.80 390.79h4.8M766.00 390.79h-4.8M450.80 384.39h5.6M766.00 384.39h-5.6M450.80 378.00h4.8M766.00 378.00h-4.8M450.80 371.60h4.8M766.00 371.60h-4.8M450.80 365.20h4.8M766.00 365.20h-4.8M450.80 358.81h4.8M766.00 358.81h-4.8M450.80 352.41h8.8M766.00 352.41h-8.8M450.80 346.01h4.8M766.00 346.01h-4.8M450.80 339.62h4.8M766.00 339.62h-4.8M450.80 333.22h4.8M766.00 333.22h-4.8M450.80 326.82h4.8M766.00 326.82h-4.8M450.80 320.43h5.6M766.00 320.43h-5.6M450.80 314.03h4.8M766.00 314.03h-4.8M450.80 307.63h4.8M766.00 307.63h-4.8M450.80 301.23h4.8M766.00 301.23h-4.8M450.80 294.84h4.8M766.00 294.84h-4.8M450.80 288.44h8.8M766.00 288.44h-8.8M450.80 282.04h4.8M766.00 282.04h-4.8M450.80 275.65h4.8M766.00 275.65h-4.8M450.80 269.25h4.8M766.00 269.25h-4.8M450.80 262.85h4.8M766.00 262.85h-4.8M450.80 256.46h5.6M766.00 256.46h-5.6M450.80 250.06h4.8M766.00 250.06h-4.8M450.80 243.66h4.8M766.00 243.66h-4.8M450.80 237.26h4.8M766.00 237.26h-4.8M450.80 230.87h4.8M766.00 230.87h-4.8M450.80 224.47h8.8M766.00 224.47h-8.8M450.80 218.07h4.8M766.00 218.07h-4.8M450.80 211.68h4.8M766.00 211.68h-4.8M450.80 205.28h4.8M766.00 205.28h-4.8M450.80 198.88h4.8M766.00 198.88h-4.8M450.80 192.49h5.6M766.00 192.49h-5.6M450.80 186.09h4.8M766.00 186.09h-4.8M450.80 179.69h4.8M766.00 179.69h-4.8M450.80 173.29h4.8M766.00 173.29h-4.8M450.80 166.90h4.8M766.00 166.90h-4.8M450.80 160.50h8.8M766.00 160.50h-8.8M450.80 154.10h4.8M766.00 154.10h-4.8M450.80 147.71h4.8M766.00 147.71h-4.8M450.80 141.31h4.8M766.00 141.31h-4.8M450.80 134.91h4.8M766.00 134.91h-4.8M450.80 128.51h5.6M766.00 128.51h-5.6M450.80 122.12h4.8M766.00 122.12h-4.8M450.80 115.72h4.8M766.00 115.72h-4.8M450.80 109.32h4.8M766.00 109.32h-4.8M450.80 102.93h4.8M766.00 102.93h-4.8M450.80 96.53h8.8M766.00 96.53h-8.8M450.80 90.13h4.8M766.00 90.13h-4.8M450.80 83.74h4.8M766.00 83.74h-4.8M450.80 77.34h4.8M766.00 77.34h-4.8M450.80 70.94h4.8M766.00 70.94h-4.8M450.80 64.55h5.6M766.00 64.55h-5.6M450.80 58.15h4.8M766.00 58.15h-4.8M450.80 51.75h4.8M766.00 51.75h-4.8M450.80 45.35h4.8M766.00 45.35h-4.8M450.80 38.96h4.8M766.00 38.96h-4.8M450.80 32.56h8.8M766.00 32.56h-8.8M450.80 26.16h4.8M766.00 26.16h-4.8M450.80 19.77h4.8M766.00 19.77h-4.8M450.80 13.37h4.8M766.00 13.37h-4.8M450.80 6.97h4.8M766.00 6.97h-4.8" stroke="#111" stroke-width="1.3" fill="none"/>
<g fill="#0a3cff" stroke="#0a3cff"><path d="M472.95 45.20L481.97 45.00L490.98 45.60L500.00 45.40L509.01 45.80L518.03 46.50L527.05 46.90L536.06 47.70L545.08 48.60L554.09 49.80L563.11 50.90L572.13 52.60L581.14 54.30L590.16 56.00L599.17 58.20L608.19 61.00L617.21 63.30L626.22 66.80L635.24 70.30L644.25 73.10L653.27 76.20L662.29 79.70L671.30 82.00L680.32 84.10L689.33 87.40L698.35 86.90L707.37 89.50L716.38 90.00L725.40 88.60L734.41 88.60L743.43 88.60M472.95 92.60L481.97 92.60L490.98 93.20L500.00 91.70L509.01 92.20L518.03 93.00L527.05 93.40L536.06 94.30L545.08 94.90L554.09 95.80L563.11 96.80L572.13 97.90L581.14 98.90L590.16 99.60L599.17 101.20L608.19 102.30L617.21 104.10L626.22 105.70L635.24 106.60L644.25 108.00L653.27 109.70L662.29 110.90L671.30 111.80L680.32 113.40L689.33 115.80L698.35 119.50L707.37 121.90L716.38 122.10M472.95 118.60L481.97 118.40L490.98 118.60L500.00 122.60L509.01 123.10L518.03 123.30L527.05 123.50L536.06 123.70L545.08 123.90L554.09 124.10L563.11 124.30L572.13 124.60L581.14 124.80L590.16 125.40L599.17 125.60L608.19 126.00L617.21 126.30L626.22 126.80L635.24 127.00L644.25 127.50L653.27 127.70L662.29 127.70L671.30 128.00L680.32 128.40L689.33 129.40M472.95 205.75L481.97 206.00L490.98 206.00L500.00 201.25L509.01 201.25L518.03 201.25L527.05 201.25L536.06 201.25L545.08 201.25L554.09 201.25L563.11 201.50L572.13 201.75L581.14 202.00L590.16 202.50L599.17 202.60L608.19 202.75L617.21 202.75L626.22 203.25L635.24 203.50L644.25 203.50L653.27 204.25L662.29 204.75L671.30 206.25L680.32 206.50L689.33 207.00L698.35 207.50L707.37 208.00L716.38 208.50L725.40 207.50L734.41 208.00L743.43 208.00M500.00 237.75L509.01 237.75L518.03 237.75L527.05 237.75L536.06 237.75L545.08 237.75L554.09 237.75L563.11 238.25L572.13 238.00L581.14 238.00L590.16 238.00L599.17 238.75L608.19 238.00L617.21 238.25L626.22 238.75L635.24 237.75L644.25 236.25L653.27 236.75L662.29 237.25M725.40 164.50L734.41 164.50L743.43 164.00M472.95 274.60L481.97 274.60L490.98 274.60M472.95 282.90L481.97 282.90L490.98 283.10L500.00 287.10L509.01 287.50L518.03 288.10L527.05 288.60L536.06 289.20L545.08 289.80L554.09 290.50L563.11 291.30L572.13 292.00L581.14 293.00L590.16 294.20L599.17 295.60L608.19 296.80L617.21 297.70L626.22 298.70L635.24 299.80L644.25 300.50L653.27 302.00L662.29 302.90L671.30 303.80M490.98 297.20L500.00 298.10L509.01 298.50L518.03 299.20L527.05 299.80L536.06 300.60L545.08 301.30L554.09 301.90L563.11 302.80L572.13 303.80L581.14 304.90L590.16 306.00L599.17 307.00L608.19 307.90L617.21 308.60L626.22 309.30L635.24 309.90L644.25 310.60L653.27 311.10L662.29 311.80L671.30 312.50L680.32 306.60L689.33 306.60L698.35 307.80L707.37 307.80L716.38 307.80L725.40 321.40L734.41 321.40L743.43 321.20M472.95 316.30L481.97 316.70L490.98 316.70L500.00 311.40L509.01 312.10L518.03 312.50L527.05 313.30L536.06 314.00L545.08 314.40L554.09 314.90L563.11 315.50L572.13 315.90L581.14 316.30L590.16 316.40L599.17 319.00L608.19 319.80L617.21 320.50L626.22 321.30L635.24 322.30L644.25 323.30L653.27 324.20L662.29 325.20L671.30 326.10L680.32 326.80L689.33 327.70L698.35 328.40L707.37 329.10L716.38 329.80M472.95 320.10L481.97 320.10L490.98 320.30L500.00 321.00L509.01 321.10L518.03 321.10L527.05 321.10L536.06 321.10L545.08 321.00L554.09 321.00L563.11 321.00L572.13 321.00L581.14 321.00L590.16 321.40M490.98 328.80L500.00 329.40L509.01 330.00L518.03 330.50L527.05 330.90L536.06 331.30L545.08 331.60L554.09 331.70L563.11 331.80L572.13 332.40L581.14 332.50M472.95 337.90L481.97 338.10L490.98 339.20L500.00 338.30L509.01 338.50L518.03 338.70L527.05 338.90L536.06 339.20L545.08 339.40L554.09 339.70L563.11 339.80L572.13 341.80L581.14 342.20L590.16 343.00L599.17 344.60L608.19 346.40L617.21 347.10L626.22 348.20L635.24 349.10L644.25 350.00L653.27 351.00L662.29 351.90L671.30 352.80L680.32 353.50L689.33 354.40L698.35 354.90L707.37 355.60L716.38 355.90M563.11 339.80L572.13 338.00L581.14 338.60L590.16 339.20L599.17 339.80L608.19 340.30L617.21 340.80L626.22 341.30L635.24 341.60L644.25 342.10L653.27 342.60L662.29 343.20L671.30 343.70L680.32 344.40L689.33 345.10L698.35 345.80L707.37 346.20L716.38 346.70M472.95 351.00L481.97 351.20L490.98 352.30L500.00 347.60L509.01 348.50L518.03 348.90L527.05 349.30L536.06 349.70L545.08 350.20L554.09 350.70L563.11 351.00L572.13 351.40L581.14 351.50M490.98 356.70L500.00 357.60L509.01 358.00L518.03 358.40L527.05 358.80L536.06 359.30L545.08 359.80L554.09 360.40L563.11 361.00L572.13 361.70L581.14 362.30L590.16 362.70L599.17 363.10L608.19 363.50L617.21 363.70L626.22 363.90L635.24 364.10L644.25 364.20M490.98 365.30L500.00 365.40L509.01 365.50L518.03 365.60L527.05 365.70L536.06 365.80L545.08 365.90L554.09 366.20L563.11 366.30L572.13 366.60L581.14 366.80L590.16 366.80L599.17 367.10L608.19 367.40L617.21 367.70L626.22 368.00L635.24 368.40L644.25 368.80L653.27 369.40L662.29 369.80L671.30 370.30L680.32 370.80L689.33 371.25L698.35 372.00L707.37 372.90L716.38 373.50L725.40 383.70L734.41 383.70L743.43 383.90M490.98 379.70L500.00 379.90L509.01 380.00L518.03 380.10L527.05 380.20L536.06 380.30L545.08 380.40L554.09 380.50L563.11 380.50L572.13 380.80L581.14 381.00L590.16 381.25L599.17 381.60L608.19 381.90L617.21 382.20L626.22 382.50L635.24 382.70L644.25 383.00L653.27 383.20L662.29 383.70L671.30 384.10L680.32 384.40L689.33 384.40L698.35 384.10L707.37 384.10L716.38 383.90M472.95 385.20L481.97 385.40L490.98 385.80L500.00 386.20L509.01 386.50L518.03 386.70L527.05 386.90L536.06 387.20L545.08 387.50L554.09 387.70L563.11 387.90L572.13 388.40L581.14 388.60L590.16 389.00L599.17 389.50L608.19 389.90L617.21 390.20L626.22 390.50L635.24 390.90L644.25 391.40L653.27 392.80L662.29 394.50L671.30 399.10L680.32 399.80L689.33 400.80L698.35 401.25L707.37 402.00L716.38 402.40L725.40 408.50L734.41 408.75L743.43 409.70M490.98 402.50L500.00 402.10L509.01 401.70L518.03 401.50L527.05 401.10L536.06 400.80L545.08 400.80L554.09 400.60L563.11 400.40L572.13 400.40L581.14 400.40L590.16 400.60L599.17 400.70L608.19 400.80L617.21 400.80L626.22 400.80L635.24 400.80L644.25 400.80L653.27 400.80L662.29 401.25M472.95 415.00L481.97 415.20L490.98 415.70L500.00 417.60L509.01 417.80L518.03 418.00L527.05 418.20L536.06 418.60L545.08 418.80L554.09 419.00L563.11 419.30L572.13 419.50L581.14 419.70L590.16 419.90L599.17 420.00L608.19 420.10L617.21 420.20L626.22 420.20L635.24 421.20L644.25 420.50L653.27 422.10M472.95 423.30L481.97 423.70M490.98 430.30L500.00 430.50L509.01 430.70L518.03 430.90L527.05 431.10L536.06 431.30L545.08 431.50L554.09 431.80L563.11 432.00L572.13 432.60L581.14 433.00L590.16 433.50L599.17 433.90L608.19 434.40L617.21 435.00L626.22 435.50L635.24 435.90L644.25 436.60L653.27 437.60L662.29 438.30L671.30 439.20L680.32 439.90L689.33 440.60L698.35 442.50L707.37 444.60L716.38 444.60L725.40 441.10L734.41 441.80L743.43 442.00M490.98 438.90L500.00 439.20L509.01 439.20L518.03 439.30L527.05 439.30L536.06 439.40L545.08 439.50L554.09 439.50L563.11 439.60L572.13 439.80L581.14 440.00L590.16 440.60L599.17 440.90L608.19 441.10L617.21 441.30L626.22 441.60L635.24 441.80L644.25 442.00L653.27 443.20L662.29 443.90L671.30 444.80L680.32 445.50L689.33 446.00L698.35 447.90L707.37 452.60L716.38 452.60" fill="none" stroke-width="1.1" stroke-linejoin="round"/><use href="#mk" x="472.95" y="45.20"/><use href="#mk" x="481.97" y="45.00"/><use href="#mk" x="490.98" y="45.60"/><use href="#mk" x="500.00" y="45.40"/><use href="#mk" x="509.01" y="45.80"/><use href="#mk" x="518.03" y="46.50"/><use href="#mk" x="527.05" y="46.90"/><use href="#mk" x="536.06" y="47.70"/><use href="#mk" x="545.08" y="48.60"/><use href="#mk" x="554.09" y="49.80"/><use href="#mk" x="563.11" y="50.90"/><use href="#mk" x="572.13" y="52.60"/><use href="#mk" x="581.14" y="54.30"/><use href="#mk" x="590.16" y="56.00"/><use href="#mk" x="599.17" y="58.20"/><use href="#mk" x="608.19" y="61.00"/><use href="#mk" x="617.21" y="63.30"/><use href="#mk" x="626.22" y="66.80"/><use href="#mk" x="635.24" y="70.30"/><use href="#mk" x="644.25" y="73.10"/><use href="#mk" x="653.27" y="76.20"/><use href="#mk" x="662.29" y="79.70"/><use href="#mk" x="671.30" y="82.00"/><use href="#mk" x="680.32" y="84.10"/><use href="#mk" x="689.33" y="87.40"/><use href="#mk" x="698.35" y="86.90"/><use href="#mk" x="707.37" y="89.50"/><use href="#mk" x="716.38" y="90.00"/><use href="#mk" x="725.40" y="88.60"/><use href="#mk" x="734.41" y="88.60"/><use href="#mk" x="743.43" y="88.60"/><use href="#mk" x="472.95" y="92.60"/><use href="#mk" x="481.97" y="92.60"/><use href="#mk" x="490.98" y="93.20"/><use href="#mk" x="500.00" y="91.70"/><use href="#mk" x="509.01" y="92.20"/><use href="#mk" x="518.03" y="93.00"/><use href="#mk" x="527.05" y="93.40"/><use href="#mk" x="536.06" y="94.30"/><use href="#mk" x="545.08" y="94.90"/><use href="#mk" x="554.09" y="95.80"/><use href="#mk" x="563.11" y="96.80"/><use href="#mk" x="572.13" y="97.90"/><use href="#mk" x="581.14" y="98.90"/><use href="#mk" x="590.16" y="99.60"/><use href="#mk" x="599.17" y="101.20"/><use href="#mk" x="608.19" y="102.30"/><use href="#mk" x="617.21" y="104.10"/><use href="#mk" x="626.22" y="105.70"/><use href="#mk" x="635.24" y="106.60"/><use href="#mk" x="644.25" y="108.00"/><use href="#mk" x="653.27" y="109.70"/><use href="#mk" x="662.29" y="110.90"/><use href="#mk" x="671.30" y="111.80"/><use href="#mk" x="680.32" y="113.40"/><use href="#mk" x="689.33" y="115.80"/><use href="#mk" x="698.35" y="119.50"/><use href="#mk" x="707.37" y="121.90"/><use href="#mk" x="716.38" y="122.10"/><use href="#mk" x="472.95" y="118.60"/><use href="#mk" x="481.97" y="118.40"/><use href="#mk" x="490.98" y="118.60"/><use href="#mk" x="500.00" y="122.60"/><use href="#mk" x="509.01" y="123.10"/><use href="#mk" x="518.03" y="123.30"/><use href="#mk" x="527.05" y="123.50"/><use href="#mk" x="536.06" y="123.70"/><use href="#mk" x="545.08" y="123.90"/><use href="#mk" x="554.09" y="124.10"/><use href="#mk" x="563.11" y="124.30"/><use href="#mk" x="572.13" y="124.60"/><use href="#mk" x="581.14" y="124.80"/><use href="#mk" x="590.16" y="125.40"/><use href="#mk" x="599.17" y="125.60"/><use href="#mk" x="608.19" y="126.00"/><use href="#mk" x="617.21" y="126.30"/><use href="#mk" x="626.22" y="126.80"/><use href="#mk" x="635.24" y="127.00"/><use href="#mk" x="644.25" y="127.50"/><use href="#mk" x="653.27" y="127.70"/><use href="#mk" x="662.29" y="127.70"/><use href="#mk" x="671.30" y="128.00"/><use href="#mk" x="680.32" y="128.40"/><use href="#mk" x="689.33" y="129.40"/><use href="#mk" x="472.95" y="205.75"/><use href="#mk" x="481.97" y="206.00"/><use href="#mk" x="490.98" y="206.00"/><use href="#mk" x="500.00" y="201.25"/><use href="#mk" x="509.01" y="201.25"/><use href="#mk" x="518.03" y="201.25"/><use href="#mk" x="527.05" y="201.25"/><use href="#mk" x="536.06" y="201.25"/><use href="#mk" x="545.08" y="201.25"/><use href="#mk" x="554.09" y="201.25"/><use href="#mk" x="563.11" y="201.50"/><use href="#mk" x="572.13" y="201.75"/><use href="#mk" x="581.14" y="202.00"/><use href="#mk" x="590.16" y="202.50"/><use href="#mk" x="599.17" y="202.60"/><use href="#mk" x="608.19" y="202.75"/><use href="#mk" x="617.21" y="202.75"/><use href="#mk" x="626.22" y="203.25"/><use href="#mk" x="635.24" y="203.50"/><use href="#mk" x="644.25" y="203.50"/><use href="#mk" x="653.27" y="204.25"/><use href="#mk" x="662.29" y="204.75"/><use href="#mk" x="671.30" y="206.25"/><use href="#mk" x="680.32" y="206.50"/><use href="#mk" x="689.33" y="207.00"/><use href="#mk" x="698.35" y="207.50"/><use href="#mk" x="707.37" y="208.00"/><use href="#mk" x="716.38" y="208.50"/><use href="#mk" x="725.40" y="207.50"/><use href="#mk" x="734.41" y="208.00"/><use href="#mk" x="743.43" y="208.00"/><use href="#mk" x="500.00" y="237.75"/><use href="#mk" x="509.01" y="237.75"/><use href="#mk" x="518.03" y="237.75"/><use href="#mk" x="527.05" y="237.75"/><use href="#mk" x="536.06" y="237.75"/><use href="#mk" x="545.08" y="237.75"/><use href="#mk" x="554.09" y="237.75"/><use href="#mk" x="563.11" y="238.25"/><use href="#mk" x="572.13" y="238.00"/><use href="#mk" x="581.14" y="238.00"/><use href="#mk" x="590.16" y="238.00"/><use href="#mk" x="599.17" y="238.75"/><use href="#mk" x="608.19" y="238.00"/><use href="#mk" x="617.21" y="238.25"/><use href="#mk" x="626.22" y="238.75"/><use href="#mk" x="635.24" y="237.75"/><use href="#mk" x="644.25" y="236.25"/><use href="#mk" x="653.27" y="236.75"/><use href="#mk" x="662.29" y="237.25"/><use href="#mk" x="725.40" y="164.50"/><use href="#mk" x="734.41" y="164.50"/><use href="#mk" x="743.43" y="164.00"/><use href="#mk" x="472.95" y="274.60"/><use href="#mk" x="481.97" y="274.60"/><use href="#mk" x="490.98" y="274.60"/><use href="#mk" x="472.95" y="282.90"/><use href="#mk" x="481.97" y="282.90"/><use href="#mk" x="490.98" y="283.10"/><use href="#mk" x="500.00" y="287.10"/><use href="#mk" x="509.01" y="287.50"/><use href="#mk" x="518.03" y="288.10"/><use href="#mk" x="527.05" y="288.60"/><use href="#mk" x="536.06" y="289.20"/><use href="#mk" x="545.08" y="289.80"/><use href="#mk" x="554.09" y="290.50"/><use href="#mk" x="563.11" y="291.30"/><use href="#mk" x="572.13" y="292.00"/><use href="#mk" x="581.14" y="293.00"/><use href="#mk" x="590.16" y="294.20"/><use href="#mk" x="599.17" y="295.60"/><use href="#mk" x="608.19" y="296.80"/><use href="#mk" x="617.21" y="297.70"/><use href="#mk" x="626.22" y="298.70"/><use href="#mk" x="635.24" y="299.80"/><use href="#mk" x="644.25" y="300.50"/><use href="#mk" x="653.27" y="302.00"/><use href="#mk" x="662.29" y="302.90"/><use href="#mk" x="671.30" y="303.80"/><use href="#mk" x="490.98" y="297.20"/><use href="#mk" x="500.00" y="298.10"/><use href="#mk" x="509.01" y="298.50"/><use href="#mk" x="518.03" y="299.20"/><use href="#mk" x="527.05" y="299.80"/><use href="#mk" x="536.06" y="300.60"/><use href="#mk" x="545.08" y="301.30"/><use href="#mk" x="554.09" y="301.90"/><use href="#mk" x="563.11" y="302.80"/><use href="#mk" x="572.13" y="303.80"/><use href="#mk" x="581.14" y="304.90"/><use href="#mk" x="590.16" y="306.00"/><use href="#mk" x="599.17" y="307.00"/><use href="#mk" x="608.19" y="307.90"/><use href="#mk" x="617.21" y="308.60"/><use href="#mk" x="626.22" y="309.30"/><use href="#mk" x="635.24" y="309.90"/><use href="#mk" x="644.25" y="310.60"/><use href="#mk" x="653.27" y="311.10"/><use href="#mk" x="662.29" y="311.80"/><use href="#mk" x="671.30" y="312.50"/><use href="#mk" x="680.32" y="306.60"/><use href="#mk" x="689.33" y="306.60"/><use href="#mk" x="698.35" y="307.80"/><use href="#mk" x="707.37" y="307.80"/><use href="#mk" x="716.38" y="307.80"/><use href="#mk" x="725.40" y="321.40"/><use href="#mk" x="734.41" y="321.40"/><use href="#mk" x="743.43" y="321.20"/><use href="#mk" x="472.95" y="316.30"/><use href="#mk" x="481.97" y="316.70"/><use href="#mk" x="490.98" y="316.70"/><use href="#mk" x="500.00" y="311.40"/><use href="#mk" x="509.01" y="312.10"/><use href="#mk" x="518.03" y="312.50"/><use href="#mk" x="527.05" y="313.30"/><use href="#mk" x="536.06" y="314.00"/><use href="#mk" x="545.08" y="314.40"/><use href="#mk" x="554.09" y="314.90"/><use href="#mk" x="563.11" y="315.50"/><use href="#mk" x="572.13" y="315.90"/><use href="#mk" x="581.14" y="316.30"/><use href="#mk" x="590.16" y="316.40"/><use href="#mk" x="599.17" y="319.00"/><use href="#mk" x="608.19" y="319.80"/><use href="#mk" x="617.21" y="320.50"/><use href="#mk" x="626.22" y="321.30"/><use href="#mk" x="635.24" y="322.30"/><use href="#mk" x="644.25" y="323.30"/><use href="#mk" x="653.27" y="324.20"/><use href="#mk" x="662.29" y="325.20"/><use href="#mk" x="671.30" y="326.10"/><use href="#mk" x="680.32" y="326.80"/><use href="#mk" x="689.33" y="327.70"/><use href="#mk" x="698.35" y="328.40"/><use href="#mk" x="707.37" y="329.10"/><use href="#mk" x="716.38" y="329.80"/><use href="#mk" x="472.95" y="320.10"/><use href="#mk" x="481.97" y="320.10"/><use href="#mk" x="490.98" y="320.30"/><use href="#mk" x="500.00" y="321.00"/><use href="#mk" x="509.01" y="321.10"/><use href="#mk" x="518.03" y="321.10"/><use href="#mk" x="527.05" y="321.10"/><use href="#mk" x="536.06" y="321.10"/><use href="#mk" x="545.08" y="321.00"/><use href="#mk" x="554.09" y="321.00"/><use href="#mk" x="563.11" y="321.00"/><use href="#mk" x="572.13" y="321.00"/><use href="#mk" x="581.14" y="321.00"/><use href="#mk" x="590.16" y="321.40"/><use href="#mk" x="490.98" y="328.80"/><use href="#mk" x="500.00" y="329.40"/><use href="#mk" x="509.01" y="330.00"/><use href="#mk" x="518.03" y="330.50"/><use href="#mk" x="527.05" y="330.90"/><use href="#mk" x="536.06" y="331.30"/><use href="#mk" x="545.08" y="331.60"/><use href="#mk" x="554.09" y="331.70"/><use href="#mk" x="563.11" y="331.80"/><use href="#mk" x="572.13" y="332.40"/><use href="#mk" x="581.14" y="332.50"/><use href="#mk" x="472.95" y="337.90"/><use href="#mk" x="481.97" y="338.10"/><use href="#mk" x="490.98" y="339.20"/><use href="#mk" x="500.00" y="338.30"/><use href="#mk" x="509.01" y="338.50"/><use href="#mk" x="518.03" y="338.70"/><use href="#mk" x="527.05" y="338.90"/><use href="#mk" x="536.06" y="339.20"/><use href="#mk" x="545.08" y="339.40"/><use href="#mk" x="554.09" y="339.70"/><use href="#mk" x="563.11" y="339.80"/><use href="#mk" x="572.13" y="341.80"/><use href="#mk" x="581.14" y="342.20"/><use href="#mk" x="590.16" y="343.00"/><use href="#mk" x="599.17" y="344.60"/><use href="#mk" x="608.19" y="346.40"/><use href="#mk" x="617.21" y="347.10"/><use href="#mk" x="626.22" y="348.20"/><use href="#mk" x="635.24" y="349.10"/><use href="#mk" x="644.25" y="350.00"/><use href="#mk" x="653.27" y="351.00"/><use href="#mk" x="662.29" y="351.90"/><use href="#mk" x="671.30" y="352.80"/><use href="#mk" x="680.32" y="353.50"/><use href="#mk" x="689.33" y="354.40"/><use href="#mk" x="698.35" y="354.90"/><use href="#mk" x="707.37" y="355.60"/><use href="#mk" x="716.38" y="355.90"/><use href="#mk" x="563.11" y="339.80"/><use href="#mk" x="572.13" y="338.00"/><use href="#mk" x="581.14" y="338.60"/><use href="#mk" x="590.16" y="339.20"/><use href="#mk" x="599.17" y="339.80"/><use href="#mk" x="608.19" y="340.30"/><use href="#mk" x="617.21" y="340.80"/><use href="#mk" x="626.22" y="341.30"/><use href="#mk" x="635.24" y="341.60"/><use href="#mk" x="644.25" y="342.10"/><use href="#mk" x="653.27" y="342.60"/><use href="#mk" x="662.29" y="343.20"/><use href="#mk" x="671.30" y="343.70"/><use href="#mk" x="680.32" y="344.40"/><use href="#mk" x="689.33" y="345.10"/><use href="#mk" x="698.35" y="345.80"/><use href="#mk" x="707.37" y="346.20"/><use href="#mk" x="716.38" y="346.70"/><use href="#mk" x="472.95" y="351.00"/><use href="#mk" x="481.97" y="351.20"/><use href="#mk" x="490.98" y="352.30"/><use href="#mk" x="500.00" y="347.60"/><use href="#mk" x="509.01" y="348.50"/><use href="#mk" x="518.03" y="348.90"/><use href="#mk" x="527.05" y="349.30"/><use href="#mk" x="536.06" y="349.70"/><use href="#mk" x="545.08" y="350.20"/><use href="#mk" x="554.09" y="350.70"/><use href="#mk" x="563.11" y="351.00"/><use href="#mk" x="572.13" y="351.40"/><use href="#mk" x="581.14" y="351.50"/><use href="#mk" x="490.98" y="356.70"/><use href="#mk" x="500.00" y="357.60"/><use href="#mk" x="509.01" y="358.00"/><use href="#mk" x="518.03" y="358.40"/><use href="#mk" x="527.05" y="358.80"/><use href="#mk" x="536.06" y="359.30"/><use href="#mk" x="545.08" y="359.80"/><use href="#mk" x="554.09" y="360.40"/><use href="#mk" x="563.11" y="361.00"/><use href="#mk" x="572.13" y="361.70"/><use href="#mk" x="581.14" y="362.30"/><use href="#mk" x="590.16" y="362.70"/><use href="#mk" x="599.17" y="363.10"/><use href="#mk" x="608.19" y="363.50"/><use href="#mk" x="617.21" y="363.70"/><use href="#mk" x="626.22" y="363.90"/><use href="#mk" x="635.24" y="364.10"/><use href="#mk" x="644.25" y="364.20"/><use href="#mk" x="490.98" y="365.30"/><use href="#mk" x="500.00" y="365.40"/><use href="#mk" x="509.01" y="365.50"/><use href="#mk" x="518.03" y="365.60"/><use href="#mk" x="527.05" y="365.70"/><use href="#mk" x="536.06" y="365.80"/><use href="#mk" x="545.08" y="365.90"/><use href="#mk" x="554.09" y="366.20"/><use href="#mk" x="563.11" y="366.30"/><use href="#mk" x="572.13" y="366.60"/><use href="#mk" x="581.14" y="366.80"/><use href="#mk" x="590.16" y="366.80"/><use href="#mk" x="599.17" y="367.10"/><use href="#mk" x="608.19" y="367.40"/><use href="#mk" x="617.21" y="367.70"/><use href="#mk" x="626.22" y="368.00"/><use href="#mk" x="635.24" y="368.40"/><use href="#mk" x="644.25" y="368.80"/><use href="#mk" x="653.27" y="369.40"/><use href="#mk" x="662.29" y="369.80"/><use href="#mk" x="671.30" y="370.30"/><use href="#mk" x="680.32" y="370.80"/><use href="#mk" x="689.33" y="371.25"/><use href="#mk" x="698.35" y="372.00"/><use href="#mk" x="707.37" y="372.90"/><use href="#mk" x="716.38" y="373.50"/><use href="#mk" x="725.40" y="383.70"/><use href="#mk" x="734.41" y="383.70"/><use href="#mk" x="743.43" y="383.90"/><use href="#mk" x="490.98" y="379.70"/><use href="#mk" x="500.00" y="379.90"/><use href="#mk" x="509.01" y="380.00"/><use href="#mk" x="518.03" y="380.10"/><use href="#mk" x="527.05" y="380.20"/><use href="#mk" x="536.06" y="380.30"/><use href="#mk" x="545.08" y="380.40"/><use href="#mk" x="554.09" y="380.50"/><use href="#mk" x="563.11" y="380.50"/><use href="#mk" x="572.13" y="380.80"/><use href="#mk" x="581.14" y="381.00"/><use href="#mk" x="590.16" y="381.25"/><use href="#mk" x="599.17" y="381.60"/><use href="#mk" x="608.19" y="381.90"/><use href="#mk" x="617.21" y="382.20"/><use href="#mk" x="626.22" y="382.50"/><use href="#mk" x="635.24" y="382.70"/><use href="#mk" x="644.25" y="383.00"/><use href="#mk" x="653.27" y="383.20"/><use href="#mk" x="662.29" y="383.70"/><use href="#mk" x="671.30" y="384.10"/><use href="#mk" x="680.32" y="384.40"/><use href="#mk" x="689.33" y="384.40"/><use href="#mk" x="698.35" y="384.10"/><use href="#mk" x="707.37" y="384.10"/><use href="#mk" x="716.38" y="383.90"/><use href="#mk" x="472.95" y="385.20"/><use href="#mk" x="481.97" y="385.40"/><use href="#mk" x="490.98" y="385.80"/><use href="#mk" x="500.00" y="386.20"/><use href="#mk" x="509.01" y="386.50"/><use href="#mk" x="518.03" y="386.70"/><use href="#mk" x="527.05" y="386.90"/><use href="#mk" x="536.06" y="387.20"/><use href="#mk" x="545.08" y="387.50"/><use href="#mk" x="554.09" y="387.70"/><use href="#mk" x="563.11" y="387.90"/><use href="#mk" x="572.13" y="388.40"/><use href="#mk" x="581.14" y="388.60"/><use href="#mk" x="590.16" y="389.00"/><use href="#mk" x="599.17" y="389.50"/><use href="#mk" x="608.19" y="389.90"/><use href="#mk" x="617.21" y="390.20"/><use href="#mk" x="626.22" y="390.50"/><use href="#mk" x="635.24" y="390.90"/><use href="#mk" x="644.25" y="391.40"/><use href="#mk" x="653.27" y="392.80"/><use href="#mk" x="662.29" y="394.50"/><use href="#mk" x="671.30" y="399.10"/><use href="#mk" x="680.32" y="399.80"/><use href="#mk" x="689.33" y="400.80"/><use href="#mk" x="698.35" y="401.25"/><use href="#mk" x="707.37" y="402.00"/><use href="#mk" x="716.38" y="402.40"/><use href="#mk" x="725.40" y="408.50"/><use href="#mk" x="734.41" y="408.75"/><use href="#mk" x="743.43" y="409.70"/><use href="#mk" x="490.98" y="402.50"/><use href="#mk" x="500.00" y="402.10"/><use href="#mk" x="509.01" y="401.70"/><use href="#mk" x="518.03" y="401.50"/><use href="#mk" x="527.05" y="401.10"/><use href="#mk" x="536.06" y="400.80"/><use href="#mk" x="545.08" y="400.80"/><use href="#mk" x="554.09" y="400.60"/><use href="#mk" x="563.11" y="400.40"/><use href="#mk" x="572.13" y="400.40"/><use href="#mk" x="581.14" y="400.40"/><use href="#mk" x="590.16" y="400.60"/><use href="#mk" x="599.17" y="400.70"/><use href="#mk" x="608.19" y="400.80"/><use href="#mk" x="617.21" y="400.80"/><use href="#mk" x="626.22" y="400.80"/><use href="#mk" x="635.24" y="400.80"/><use href="#mk" x="644.25" y="400.80"/><use href="#mk" x="653.27" y="400.80"/><use href="#mk" x="662.29" y="401.25"/><use href="#mk" x="472.95" y="415.00"/><use href="#mk" x="481.97" y="415.20"/><use href="#mk" x="490.98" y="415.70"/><use href="#mk" x="500.00" y="417.60"/><use href="#mk" x="509.01" y="417.80"/><use href="#mk" x="518.03" y="418.00"/><use href="#mk" x="527.05" y="418.20"/><use href="#mk" x="536.06" y="418.60"/><use href="#mk" x="545.08" y="418.80"/><use href="#mk" x="554.09" y="419.00"/><use href="#mk" x="563.11" y="419.30"/><use href="#mk" x="572.13" y="419.50"/><use href="#mk" x="581.14" y="419.70"/><use href="#mk" x="590.16" y="419.90"/><use href="#mk" x="599.17" y="420.00"/><use href="#mk" x="608.19" y="420.10"/><use href="#mk" x="617.21" y="420.20"/><use href="#mk" x="626.22" y="420.20"/><use href="#mk" x="635.24" y="421.20"/><use href="#mk" x="644.25" y="420.50"/><use href="#mk" x="653.27" y="422.10"/><use href="#mk" x="472.95" y="423.30"/><use href="#mk" x="481.97" y="423.70"/><use href="#mk" x="490.98" y="430.30"/><use href="#mk" x="500.00" y="430.50"/><use href="#mk" x="509.01" y="430.70"/><use href="#mk" x="518.03" y="430.90"/><use href="#mk" x="527.05" y="431.10"/><use href="#mk" x="536.06" y="431.30"/><use href="#mk" x="545.08" y="431.50"/><use href="#mk" x="554.09" y="431.80"/><use href="#mk" x="563.11" y="432.00"/><use href="#mk" x="572.13" y="432.60"/><use href="#mk" x="581.14" y="433.00"/><use href="#mk" x="590.16" y="433.50"/><use href="#mk" x="599.17" y="433.90"/><use href="#mk" x="608.19" y="434.40"/><use href="#mk" x="617.21" y="435.00"/><use href="#mk" x="626.22" y="435.50"/><use href="#mk" x="635.24" y="435.90"/><use href="#mk" x="644.25" y="436.60"/><use href="#mk" x="653.27" y="437.60"/><use href="#mk" x="662.29" y="438.30"/><use href="#mk" x="671.30" y="439.20"/><use href="#mk" x="680.32" y="439.90"/><use href="#mk" x="689.33" y="440.60"/><use href="#mk" x="698.35" y="442.50"/><use href="#mk" x="707.37" y="444.60"/><use href="#mk" x="716.38" y="444.60"/><use href="#mk" x="725.40" y="441.10"/><use href="#mk" x="734.41" y="441.80"/><use href="#mk" x="743.43" y="442.00"/><use href="#mk" x="490.98" y="438.90"/><use href="#mk" x="500.00" y="439.20"/><use href="#mk" x="509.01" y="439.20"/><use href="#mk" x="518.03" y="439.30"/><use href="#mk" x="527.05" y="439.30"/><use href="#mk" x="536.06" y="439.40"/><use href="#mk" x="545.08" y="439.50"/><use href="#mk" x="554.09" y="439.50"/><use href="#mk" x="563.11" y="439.60"/><use href="#mk" x="572.13" y="439.80"/><use href="#mk" x="581.14" y="440.00"/><use href="#mk" x="590.16" y="440.60"/><use href="#mk" x="599.17" y="440.90"/><use href="#mk" x="608.19" y="441.10"/><use href="#mk" x="617.21" y="441.30"/><use href="#mk" x="626.22" y="441.60"/><use href="#mk" x="635.24" y="441.80"/><use href="#mk" x="644.25" y="442.00"/><use href="#mk" x="653.27" y="443.20"/><use href="#mk" x="662.29" y="443.90"/><use href="#mk" x="671.30" y="444.80"/><use href="#mk" x="680.32" y="445.50"/><use href="#mk" x="689.33" y="446.00"/><use href="#mk" x="698.35" y="447.90"/><use href="#mk" x="707.37" y="452.60"/><use href="#mk" x="716.38" y="452.60"/></g>
<text x="472.95" y="496.4" text-anchor="middle" class="tl">100</text>
<text x="518.03" y="496.4" text-anchor="middle" class="tl">200</text>
<text x="563.11" y="496.4" text-anchor="middle" class="tl">300</text>
<text x="608.19" y="496.4" text-anchor="middle" class="tl">400</text>
<text x="653.27" y="496.4" text-anchor="middle" class="tl">500</text>
<text x="698.35" y="496.4" text-anchor="middle" class="tl">600</text>
<text x="743.43" y="496.4" text-anchor="middle" class="tl">700</text>
<text x="446.20" y="484.55" text-anchor="end" class="tl">0</text>
<text x="446.20" y="420.58" text-anchor="end" class="tl">100</text>
<text x="446.20" y="356.61" text-anchor="end" class="tl">200</text>
<text x="446.20" y="292.64" text-anchor="end" class="tl">300</text>
<text x="446.20" y="228.67" text-anchor="end" class="tl">400</text>
<text x="446.20" y="164.70" text-anchor="end" class="tl">500</text>
<text x="446.20" y="100.73" text-anchor="end" class="tl">600</text>
<text x="446.20" y="36.76" text-anchor="end" class="tl">700</text>
<text x="633.2" y="26.7" class="tt" textLength="115.8" lengthAdjust="spacingAndGlyphs">NNO - cooling</text>
<text transform="translate(418.2,296.4) rotate(-90)" class="al">Wavenumber (cm<tspan dy="-8.2" font-size="8" font-weight="bold">-1</tspan><tspan dy="8.2" dx="0.6">)</tspan></text>
<text x="594.0" y="515.5" class="al">Temperature (K)</text>
<path d="M529 513.5H591.5M532.2 511L528.7 513.5L532.2 516" stroke="#111" stroke-width="1" fill="none"/>
<rect x="743.5" y="486.5" width="5" height="5" fill="#fff" stroke="#111" stroke-width="1"/>
</svg>
</body></html>
